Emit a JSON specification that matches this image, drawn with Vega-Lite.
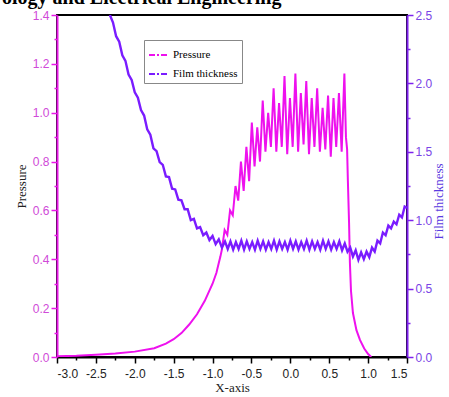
{
  "$schema": "https://vega.github.io/schema/vega-lite/v6.json",
  "width": 350,
  "height": 342,
  "autosize": {"type": "none"},
  "padding": {"left": 57, "top": 15, "right": 42, "bottom": 40},
  "background": "white",
  "title": {"text": "ology and Electrical Engineering", "anchor": "start", "frame": "group", "dx": -55, "dy": 19, "offset": 4, "baseline": "alphabetic", "font": "Liberation Serif", "fontSize": 20, "fontWeight": "bold", "color": "black"},
  "config": {"view": {"stroke": "black", "strokeWidth": 2}},
  "datasets": {
    "pressure": [
      {"x": -3.0, "p": 0.003}, {"x": -2.75, "p": 0.005}, {"x": -2.5, "p": 0.009}, {"x": -2.25, "p": 0.014},
      {"x": -2.0, "p": 0.022}, {"x": -1.75, "p": 0.036}, {"x": -1.6, "p": 0.055}, {"x": -1.5, "p": 0.073},
      {"x": -1.4, "p": 0.098}, {"x": -1.3, "p": 0.133}, {"x": -1.2, "p": 0.175}, {"x": -1.1, "p": 0.23},
      {"x": -1.0, "p": 0.3}, {"x": -0.95, "p": 0.345}, {"x": -0.92, "p": 0.385}, {"x": -0.9, "p": 0.41},
      {"x": -0.88, "p": 0.44}, {"x": -0.845, "p": 0.52}, {"x": -0.81, "p": 0.5}, {"x": -0.775, "p": 0.6},
      {"x": -0.74, "p": 0.58}, {"x": -0.705, "p": 0.7}, {"x": -0.67, "p": 0.64}, {"x": -0.635, "p": 0.8},
      {"x": -0.6, "p": 0.68}, {"x": -0.565, "p": 0.86}, {"x": -0.53, "p": 0.72}, {"x": -0.495, "p": 0.96},
      {"x": -0.46, "p": 0.78}, {"x": -0.425, "p": 0.94}, {"x": -0.39, "p": 0.8}, {"x": -0.355, "p": 1.05},
      {"x": -0.32, "p": 0.84}, {"x": -0.285, "p": 1.0}, {"x": -0.25, "p": 0.86}, {"x": -0.215, "p": 1.1},
      {"x": -0.18, "p": 0.84}, {"x": -0.145, "p": 1.04}, {"x": -0.11, "p": 0.86}, {"x": -0.075, "p": 1.15},
      {"x": -0.04, "p": 0.83}, {"x": -0.005, "p": 1.06}, {"x": 0.03, "p": 0.86}, {"x": 0.065, "p": 1.16},
      {"x": 0.1, "p": 0.84}, {"x": 0.135, "p": 1.08}, {"x": 0.17, "p": 0.87}, {"x": 0.205, "p": 1.13},
      {"x": 0.24, "p": 0.83}, {"x": 0.275, "p": 1.06}, {"x": 0.31, "p": 0.86}, {"x": 0.345, "p": 1.1},
      {"x": 0.38, "p": 0.84}, {"x": 0.415, "p": 1.02}, {"x": 0.45, "p": 0.85}, {"x": 0.485, "p": 1.07},
      {"x": 0.52, "p": 0.82}, {"x": 0.555, "p": 1.06}, {"x": 0.59, "p": 0.86}, {"x": 0.625, "p": 1.08},
      {"x": 0.66, "p": 0.84}, {"x": 0.695, "p": 1.16}, {"x": 0.715, "p": 0.9}, {"x": 0.73, "p": 0.85},
      {"x": 0.74, "p": 0.72}, {"x": 0.755, "p": 0.55}, {"x": 0.766, "p": 0.385}, {"x": 0.78, "p": 0.27},
      {"x": 0.805, "p": 0.18}, {"x": 0.85, "p": 0.11}, {"x": 0.895, "p": 0.07}, {"x": 0.95, "p": 0.035},
      {"x": 1.0, "p": 0.012}, {"x": 1.04, "p": 0.0}
    ],
    "film": [
      {"x": -2.32, "h": 2.5}, {"x": -2.28, "h": 2.445}, {"x": -2.24, "h": 2.345}, {"x": -2.2, "h": 2.305},
      {"x": -2.16, "h": 2.205}, {"x": -2.12, "h": 2.165}, {"x": -2.08, "h": 2.065}, {"x": -2.04, "h": 2.025},
      {"x": -2.0, "h": 1.935}, {"x": -1.96, "h": 1.895}, {"x": -1.92, "h": 1.805}, {"x": -1.88, "h": 1.765},
      {"x": -1.84, "h": 1.665}, {"x": -1.8, "h": 1.625}, {"x": -1.76, "h": 1.525}, {"x": -1.72, "h": 1.505},
      {"x": -1.68, "h": 1.425}, {"x": -1.64, "h": 1.405}, {"x": -1.6, "h": 1.32}, {"x": -1.56, "h": 1.315},
      {"x": -1.52, "h": 1.23}, {"x": -1.48, "h": 1.225}, {"x": -1.44, "h": 1.15}, {"x": -1.4, "h": 1.145},
      {"x": -1.36, "h": 1.08}, {"x": -1.32, "h": 1.08}, {"x": -1.28, "h": 1.0}, {"x": -1.24, "h": 1.01},
      {"x": -1.2, "h": 0.94}, {"x": -1.16, "h": 0.95}, {"x": -1.12, "h": 0.89}, {"x": -1.08, "h": 0.91},
      {"x": -1.04, "h": 0.855}, {"x": -1.0, "h": 0.885}, {"x": -0.96, "h": 0.825}, {"x": -0.92, "h": 0.86},
      {"x": -0.88, "h": 0.8}, {"x": -0.84, "h": 0.845}, {"x": -0.805, "h": 0.79}, {"x": -0.77, "h": 0.845},
      {"x": -0.735, "h": 0.785}, {"x": -0.7, "h": 0.84}, {"x": -0.665, "h": 0.79}, {"x": -0.63, "h": 0.85},
      {"x": -0.595, "h": 0.785}, {"x": -0.56, "h": 0.845}, {"x": -0.525, "h": 0.79}, {"x": -0.49, "h": 0.84},
      {"x": -0.455, "h": 0.785}, {"x": -0.42, "h": 0.85}, {"x": -0.385, "h": 0.79}, {"x": -0.35, "h": 0.845},
      {"x": -0.315, "h": 0.785}, {"x": -0.28, "h": 0.84}, {"x": -0.245, "h": 0.79}, {"x": -0.21, "h": 0.85},
      {"x": -0.175, "h": 0.785}, {"x": -0.14, "h": 0.845}, {"x": -0.105, "h": 0.79}, {"x": -0.07, "h": 0.84},
      {"x": -0.035, "h": 0.785}, {"x": 0.0, "h": 0.85}, {"x": 0.035, "h": 0.79}, {"x": 0.07, "h": 0.845},
      {"x": 0.105, "h": 0.785}, {"x": 0.14, "h": 0.84}, {"x": 0.175, "h": 0.79}, {"x": 0.21, "h": 0.85},
      {"x": 0.245, "h": 0.785}, {"x": 0.28, "h": 0.845}, {"x": 0.315, "h": 0.79}, {"x": 0.35, "h": 0.84},
      {"x": 0.385, "h": 0.785}, {"x": 0.42, "h": 0.85}, {"x": 0.455, "h": 0.79}, {"x": 0.49, "h": 0.845},
      {"x": 0.525, "h": 0.785}, {"x": 0.56, "h": 0.84}, {"x": 0.595, "h": 0.79}, {"x": 0.63, "h": 0.845},
      {"x": 0.665, "h": 0.78}, {"x": 0.7, "h": 0.83}, {"x": 0.735, "h": 0.77}, {"x": 0.77, "h": 0.8},
      {"x": 0.805, "h": 0.735}, {"x": 0.84, "h": 0.78}, {"x": 0.875, "h": 0.71}, {"x": 0.91, "h": 0.765},
      {"x": 0.945, "h": 0.715}, {"x": 0.98, "h": 0.77}, {"x": 1.015, "h": 0.73}, {"x": 1.05, "h": 0.8},
      {"x": 1.085, "h": 0.77}, {"x": 1.12, "h": 0.85}, {"x": 1.155, "h": 0.83}, {"x": 1.19, "h": 0.91},
      {"x": 1.225, "h": 0.89}, {"x": 1.26, "h": 0.96}, {"x": 1.295, "h": 0.94}, {"x": 1.33, "h": 0.99},
      {"x": 1.365, "h": 0.97}, {"x": 1.4, "h": 1.04}, {"x": 1.435, "h": 1.02}, {"x": 1.47, "h": 1.1},
      {"x": 1.5, "h": 1.09}
    ]
  },
  "layer": [
    {
      "data": {"name": "pressure"},
      "mark": {"type": "line", "strokeWidth": 2, "clip": true},
      "encoding": {
        "x": {
          "field": "x", "type": "quantitative",
          "scale": {"domain": [-3, 1.5], "nice": false, "zero": false},
          "axis": {
            "title": "X-axis", "grid": false,
            "values": [-3, -2.75, -2.5, -2.25, -2, -1.75, -1.5, -1.25, -1, -0.75, -0.5, -0.25, 0, 0.25, 0.5, 0.75, 1, 1.25, 1.5],
            "labelExpr": "abs(datum.value*2 - round(datum.value*2)) < 0.001 ? replace(format(datum.value, '.1f'), '\u2212', '-') : ''",
            "tickSize": {"condition": {"test": "abs(datum.value*2 - round(datum.value*2)) < 0.001", "value": 6}, "value": 3},
            "domainColor": "black", "domainWidth": 2, "tickColor": "black", "tickWidth": 1.5,
            "labelFont": "Liberation Sans", "labelFontSize": 12, "labelColor": "#222", "labelPadding": 5, "labelOverlap": false,
            "titleFont": "Liberation Serif", "titleFontSize": 13, "titleFontWeight": "normal", "titleColor": "#222", "titlePadding": 2
          }
        },
        "y": {
          "field": "p", "type": "quantitative",
          "scale": {"domain": [0, 1.4], "nice": false, "zero": false},
          "axis": {
            "orient": "left", "title": "Pressure", "grid": false,
            "values": [0, 0.1, 0.2, 0.3, 0.4, 0.5, 0.6, 0.7, 0.8, 0.9, 1.0, 1.1, 1.2, 1.3, 1.4],
            "labelExpr": "abs(datum.value*5 - round(datum.value*5)) < 0.001 ? format(datum.value, '.1f') : ''",
            "tickSize": {"condition": {"test": "abs(datum.value*5 - round(datum.value*5)) < 0.001", "value": 6}, "value": 3},
            "domainColor": "#e81ae8", "domainWidth": 2, "tickColor": "#e81ae8", "tickWidth": 1.5,
            "labelFont": "Liberation Sans", "labelFontSize": 12, "labelColor": "#d04ad8", "labelPadding": 2, "labelOverlap": false,
            "titleFont": "Liberation Serif", "titleFontSize": 13, "titleFontWeight": "normal", "titleColor": "#222", "titlePadding": 4
          }
        },
        "color": {
          "datum": "Pressure", "type": "nominal",
          "scale": {"domain": ["Pressure", "Film thickness"], "range": ["#ee11ee", "#7a1cff"]},
          "legend": {
            "orient": "none", "legendX": 87, "legendY": 25, "title": null,
            "symbolType": "stroke", "symbolDash": [6, 2, 2, 2], "symbolStrokeWidth": 2, "symbolSize": 400,
            "labelFont": "Liberation Serif", "labelFontSize": 11, "labelColor": "black",
            "strokeColor": "#888", "fillColor": "white", "padding": 4, "rowPadding": 3, "labelOffset": 3
          }
        }
      }
    },
    {
      "data": {"name": "film"},
      "mark": {"type": "line", "strokeWidth": 2.4, "clip": true},
      "encoding": {
        "x": {
          "field": "x", "type": "quantitative",
          "scale": {"domain": [-3, 1.5], "nice": false, "zero": false},
          "axis": {
            "title": "X-axis", "grid": false,
            "values": [-3, -2.75, -2.5, -2.25, -2, -1.75, -1.5, -1.25, -1, -0.75, -0.5, -0.25, 0, 0.25, 0.5, 0.75, 1, 1.25, 1.5],
            "labelExpr": "abs(datum.value*2 - round(datum.value*2)) < 0.001 ? replace(format(datum.value, '.1f'), '\u2212', '-') : ''",
            "tickSize": {"condition": {"test": "abs(datum.value*2 - round(datum.value*2)) < 0.001", "value": 6}, "value": 3},
            "domainColor": "black", "domainWidth": 2, "tickColor": "black", "tickWidth": 1.5,
            "labelFont": "Liberation Sans", "labelFontSize": 12, "labelColor": "#222", "labelPadding": 5, "labelOverlap": false,
            "titleFont": "Liberation Serif", "titleFontSize": 13, "titleFontWeight": "normal", "titleColor": "#222", "titlePadding": 2
          }
        },
        "y": {
          "field": "h", "type": "quantitative",
          "scale": {"domain": [0, 2.5], "nice": false, "zero": false},
          "axis": {
            "orient": "right", "title": "Film thickness", "grid": false,
            "values": [0, 0.25, 0.5, 0.75, 1.0, 1.25, 1.5, 1.75, 2.0, 2.25, 2.5],
            "labelExpr": "abs(datum.value*2 - round(datum.value*2)) < 0.001 ? format(datum.value, '.1f') : ''",
            "tickSize": {"condition": {"test": "abs(datum.value*2 - round(datum.value*2)) < 0.001", "value": 6}, "value": 3},
            "domainColor": "#7f22ee", "domainWidth": 2, "tickColor": "#7f22ee", "tickWidth": 1.5,
            "labelFont": "Liberation Sans", "labelFontSize": 12, "labelColor": "#7a44e6", "labelPadding": 2, "labelOverlap": false,
            "titleFont": "Liberation Serif", "titleFontSize": 13, "titleFontWeight": "normal", "titleColor": "#5a3ae0",
            "titleAngle": 270, "titleX": 31, "titleY": 186, "titleBaseline": "middle", "titleAlign": "center"
          }
        },
        "color": {"datum": "Film thickness", "type": "nominal"}
      }
    }
  ],
  "resolve": {"scale": {"y": "independent"}, "axis": {"y": "independent"}}
}
